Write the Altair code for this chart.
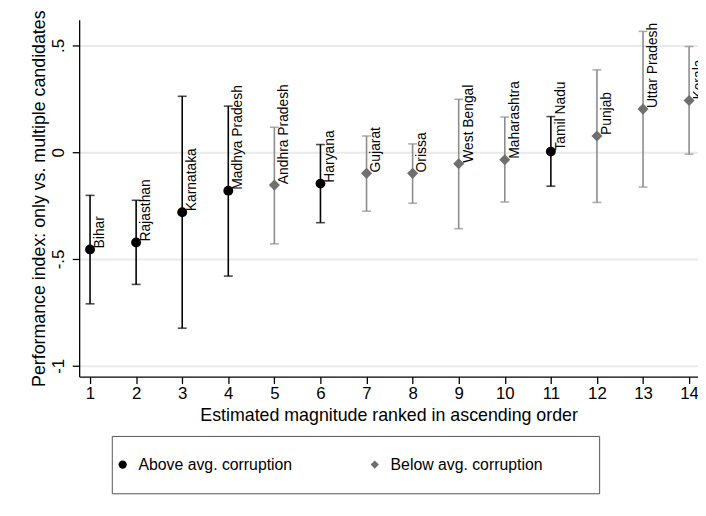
import altair as alt
import pandas as pd

states = ["Bihar", "Rajasthan", "Karnataka", "Madhya Pradesh", "Andhra Pradesh",
          "Haryana", "Gujarat", "Orissa", "West Bengal", "Maharashtra",
          "Tamil Nadu", "Punjab", "Uttar Pradesh", "Kerala"]
rank = [1, 2, 3, 4, 5, 6, 7, 8, 9, 10, 11, 12, 13, 14]
estimate = [-0.455, -0.423, -0.281, -0.180, -0.154, -0.147, -0.099, -0.099,
            -0.054, -0.035, 0.003, 0.076, 0.202, 0.242]
lower = [-0.710, -0.619, -0.824, -0.580, -0.429, -0.330, -0.276, -0.239,
         -0.358, -0.233, -0.159, -0.235, -0.163, -0.009]
upper = [-0.202, -0.225, 0.262, 0.216, 0.117, 0.036, 0.076, 0.039,
         0.248, 0.165, 0.167, 0.386, 0.566, 0.495]
group = ["Above avg. corruption"] * 4 + ["Below avg. corruption", "Above avg. corruption"] + \
        ["Below avg. corruption"] * 4 + ["Above avg. corruption"] + ["Below avg. corruption"] * 3

groups = ["Above avg. corruption", "Below avg. corruption"]
point_colors = ["#000000", "#6f6f6f"]
bar_colors = ["#000000", "#8c8c8c"]
shapes = ["circle", "diamond"]
point_sizes = [100, 125]

x_ticks = rank
y_ticks = [-1, -0.5, 0, 0.5]
y_tick_labels = ["-1", "-.5", "0", ".5"]

df = pd.DataFrame({"state": states, "rank": rank, "estimate": estimate,
                   "lower": lower, "upper": upper, "group": group})

FONT = "Liberation Sans"

label_expr = " : ".join(
    f"datum.value == {v} ? '{t}'" for v, t in zip(y_ticks[:-1], y_tick_labels[:-1])
) + f" : '{y_tick_labels[-1]}'"

x_enc = alt.X("rank:Q",
              scale=alt.Scale(domain=[0.764, 14.193], nice=False, zero=False),
              axis=alt.Axis(values=x_ticks, title="Estimated magnitude ranked in ascending order",
                            grid=False, labelFontSize=17, titleFontSize=18,
                            tickSize=7, labelPadding=2, titleX=313, titleY=44,
                            titleBaseline="alphabetic", titleFontWeight="normal",
                            domainColor="#000000", tickColor="#000000", labelColor="#000000",
                            titleColor="#000000", domainWidth=1.3, tickWidth=1.3,
                            labelFlush=False, labelOverlap=False))
y_axis = alt.Axis(values=y_ticks, labelExpr=label_expr,
                  title="Performance index: only vs. multiple candidates",
                  grid=True, gridColor="#eaeaea", gridWidth=2,
                  labelFontSize=17, titleFontSize=18, labelAngle=270,
                  labelAlign="center", labelBaseline="bottom", labelPadding=5,
                  tickSize=7, titleX=-35, titleY=180.5, titleAngle=270,
                  titleAlign="center", titleBaseline="alphabetic", titleFontWeight="normal",
                  domainColor="#000000", tickColor="#000000", labelColor="#000000",
                  titleColor="#000000", domainWidth=1.3, tickWidth=1.3,
                  labelFlush=False, labelOverlap=False)
y_scale = alt.Scale(domain=[-1.0509, 0.6204], nice=False, zero=False)

legend = alt.Legend(orient="none", legendX=33, legendY=421,
                    direction="horizontal", columns=2,
                    title=" ", titleOrient="right", titleFontSize=6,
                    titlePadding=51,
                    labelFontSize=16, labelFont=FONT, labelColor="#000000",
                    labelLimit=300, symbolSize=70, symbolStrokeWidth=0,
                    symbolOffset=-3, labelOffset=8, columnPadding=78, padding=6,
                    clipHeight=46,
                    strokeColor="#555555", fillColor="#ffffff")

color_enc = alt.Color("group:N", scale=alt.Scale(domain=groups, range=point_colors),
                      legend=legend)
shape_enc = alt.Shape("group:N", scale=alt.Scale(domain=groups, range=shapes),
                      legend=legend)

layers = []
for g, bc in zip(groups, bar_colors):
    layers.append(
        alt.Chart(df).transform_filter(alt.datum.group == g)
        .mark_errorbar(ticks={"size": 9}, thickness=1.6, color=bc)
        .encode(x=x_enc, y=alt.Y("lower:Q", scale=y_scale, axis=y_axis), y2="upper:Q")
    )
for g, sz in zip(groups, point_sizes):
    layers.append(
        alt.Chart(df).transform_filter(alt.datum.group == g)
        .mark_point(filled=True, opacity=1, size=sz, strokeWidth=0)
        .encode(x=x_enc, y=alt.Y("estimate:Q", scale=y_scale, axis=y_axis),
                color=color_enc, shape=shape_enc)
    )

labels = alt.Chart(df).mark_text(angle=270, align="left", baseline="top", dy=3, dx=1,
                                 fontSize=14, font=FONT, color="#000000").encode(
    x=x_enc,
    y=alt.Y("estimate:Q", scale=y_scale, axis=y_axis),
    text="state:N",
)
layers.append(labels)

chart = alt.layer(*layers).properties(
    width=626, height=361,
    autosize=alt.AutoSizeParams(type="none"),
    padding={"left": 72, "top": 9, "right": 0, "bottom": 130},
).configure(font=FONT).configure_view(stroke=None)

chart.save("out.html", embed_options={"renderer": "svg", "actions": False})
